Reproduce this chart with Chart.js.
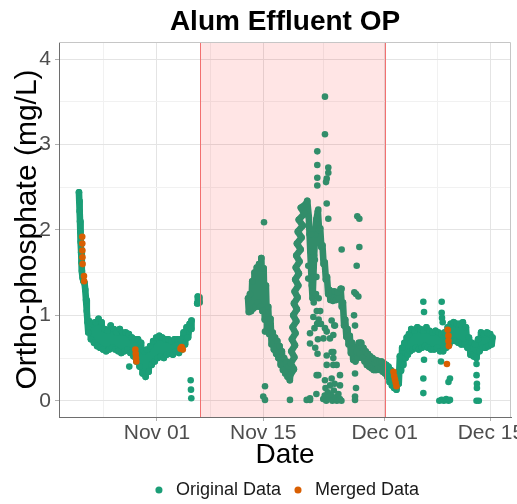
<!DOCTYPE html>
<html><head><meta charset="utf-8">
<script src="https://cdn.jsdelivr.net/npm/chart.js@4.4.1/dist/chart.umd.min.js"></script>
<style>html,body{margin:0;padding:0;background:#fff;}#wrap{width:517px;height:504px;}</style>
</head><body><div id="wrap"><canvas id="c" width="517" height="504"></canvas></div>
<script>
// ---- data (x = days from Nov 01, y = ortho-phosphate mg/L) ----
const seriesNames = ['Original Data', 'Merged Data'];
const majorTickDays = [0, 14, 30, 44];
const tickLabels = ['Nov 01', 'Nov 15', 'Dec 01', 'Dec 15'];
const minorTickDays = [-7, 7, 22, 37];
const yTickValues = [0, 0.5, 1, 1.5, 2, 2.5, 3, 3.5, 4];
const shadeStartDay = 5.67;   // shaded period start (Nov 06 ~16:00)
const shadeEndDay = 30.1;     // shaded period end (Dec 01 ~02:00)

const originalTrace = [
[-10.28,2.44],[-10.24,2.34],[-10.19,2.22],[-10.14,2.10],[-10.09,1.98],[-10.04,1.86],[-9.99,1.74],[-9.94,1.62],[-9.88,1.52],[-9.80,1.44],[-9.70,1.40],[-9.55,1.38],[-9.45,1.30],[-9.35,1.18],[-9.25,1.05],[-9.15,0.92],[-9.05,0.80],
[-8.9,0.93],[-8.7,0.72],[-8.5,0.90],[-8.3,0.68],[-8.1,0.92],[-7.9,0.64],[-7.7,0.96],[-7.5,0.62],[-7.3,0.92],[-7.1,0.60],[-6.9,0.84],[-6.7,0.58],[-6.5,0.82],[-6.3,0.60],[-6.1,0.88],[-5.9,0.62],[-5.7,0.84],[-5.5,0.60],[-5.3,0.80],[-5.1,0.58],[-4.9,0.84],[-4.7,0.56],[-4.5,0.80],[-4.3,0.58],[-4.1,0.80],[-3.9,0.60],[-3.7,0.78],[-3.5,0.56],[-3.3,0.74],[-3.1,0.52],[-2.9,0.72],[-2.7,0.46],[-2.5,0.72],[-2.3,0.40],[-2.1,0.68],[-1.9,0.32],[-1.7,0.58],[-1.5,0.28],[-1.3,0.60],[-1.1,0.34],[-0.9,0.64],[-0.7,0.42],[-0.5,0.70],[-0.3,0.46],[-0.1,0.74],[0.1,0.50],[0.3,0.76],[0.5,0.52],[0.7,0.74],[0.9,0.50],[1.1,0.72],[1.3,0.54],[1.5,0.72],[1.7,0.55],[1.9,0.70],[2.1,0.54],[2.3,0.72],[2.5,0.58],[2.7,0.72],[2.9,0.56],[3.1,0.72],[3.3,0.60],[3.5,0.80],[3.7,0.66],[3.9,0.86],[4.1,0.74],[4.3,0.90],[4.5,0.84],[4.55,0.94],
[4.9,null],
[5.30,1.14],[5.38,1.22],[5.46,1.16],[5.54,1.21],[5.60,1.15],
[8.0,null],
[12.0,1.20],[12.1,1.04],[12.25,1.25],[12.4,1.05],[12.55,1.40],[12.7,1.08],[12.85,1.50],[13.0,1.10],[13.15,1.56],[13.3,1.15],[13.45,1.60],[13.6,1.10],[13.75,1.67],[13.9,1.05],[14.05,1.55],[14.2,0.95],[14.35,1.35],[14.5,0.85],[14.65,1.10],[14.8,0.78],[14.95,0.96],[15.1,0.66],[15.25,0.80],[15.4,0.60],[15.55,0.74],[15.7,0.55],[15.85,0.70],[16.0,0.50],[16.15,0.64],[16.3,0.42],[16.45,0.58],[16.6,0.36],[16.75,0.50],[16.9,0.32],[17.05,0.46],[17.2,0.28],[17.35,0.40],[17.5,0.24],
[17.55,0.30],[18.04,0.37],[17.62,0.44],[18.10,0.51],[17.69,0.58],[18.18,0.65],[17.77,0.72],[18.25,0.79],[17.86,0.86],[18.36,0.93],[17.95,1.00],[18.44,1.07],[18.04,1.14],[18.53,1.21],[18.13,1.28],[18.62,1.35],[18.21,1.42],[18.70,1.49],[18.28,1.56],[18.78,1.63],[18.35,1.70],[18.93,1.77],[18.43,1.84],[19.05,1.91],[18.55,1.98],[19.20,2.05],[18.67,2.12],[19.40,2.19],[18.95,2.26],[19.60,2.30],[19.80,2.34],
[20.0,2.15],[20.1,1.95],[20.2,1.75],[20.3,1.55],[20.4,1.35],[20.5,1.20],[20.6,1.45],[20.7,1.70],[20.85,1.95],[21.0,2.12],[21.2,2.22],
[21.35,2.00],[21.5,2.02],[21.65,1.80],[21.8,1.82],[21.95,1.60],[22.1,1.62],[22.25,1.42],[22.4,1.45],[22.55,1.25],[22.7,1.30],[22.85,1.18],[23.0,1.28],[23.2,1.17],[23.4,1.28],[23.6,1.18],[23.8,1.27],[24.0,1.20],[24.2,1.31],[24.35,1.10],[24.5,1.15],[24.65,0.88],[24.8,0.95],[24.95,0.75],[25.1,0.84],[25.25,0.66],[25.4,0.76],[25.55,0.56],[25.7,0.68],[25.85,0.48],[26.0,0.60],[26.15,0.46],[26.3,0.58],[26.45,0.50],[26.6,0.68],[26.75,0.55],[26.9,0.68],[27.05,0.50],[27.2,0.62],[27.35,0.46],[27.5,0.58],[27.65,0.42],[27.8,0.55],[27.95,0.40],[28.1,0.52],[28.25,0.38],[28.4,0.50],[28.55,0.36],[28.7,0.48],[28.85,0.36],[29.0,0.47],[29.15,0.38],[29.3,0.46],[29.45,0.36],[29.6,0.46],[29.75,0.34],[29.9,0.44],[30.05,0.32],[30.2,0.42],[30.35,0.28],[30.5,0.40],[30.65,0.22],[30.8,0.36],[30.95,0.18],[31.1,0.32],[31.25,0.15],[31.4,0.28],[31.55,0.13],[31.7,0.30],[31.85,0.20],[32.0,0.52],[32.15,0.35],[32.3,0.62],[32.45,0.42],[32.6,0.68],[32.75,0.50],[32.9,0.74],[33.05,0.54],[33.2,0.78],[33.35,0.58],
[33.5,0.84],[33.7,0.60],[33.9,0.82],[34.1,0.62],[34.3,0.86],[34.5,0.60],[34.7,0.84],[34.9,0.62],[35.1,0.82],[35.3,0.64],[35.5,0.86],[35.7,0.62],[35.9,0.82],[36.1,0.60],[36.3,0.80],[36.5,0.60],[36.7,0.82],[36.9,0.62],[37.1,0.80],[37.3,0.58],[37.5,0.78],[37.7,0.58],[37.9,0.80],[38.1,0.62],[38.3,0.86],[38.5,0.66],[38.7,0.90],[38.9,0.70],[39.1,0.92],[39.3,0.70],[39.5,0.90],[39.7,0.68],[39.9,0.90],[40.1,0.66],[40.3,0.92],[40.5,0.66],[40.7,0.86],[40.9,0.62],[41.1,0.74],[41.3,0.54],[41.5,0.68],[41.7,0.52],[41.9,0.66],[42.1,0.50],[42.3,0.72],[42.5,0.58],[42.7,0.80],[42.9,0.62],[43.1,0.78],[43.3,0.62],[43.5,0.80],[43.7,0.64],[43.9,0.78],[44.1,0.66],[44.2,0.74]
];

const originalScatter = [
[-3.65,0.40],[4.44,0.24],[4.48,0.13],[4.52,0.03],
[14.10,2.09],[14.23,0.81],[14.23,0.17],[14.0,0.05],[14.23,0.01],[17.52,0.01],[19.72,0.01],[20.16,0.03],
[19.93,1.58],[19.93,1.43],[20.3,1.95],[20.45,1.75],[20.55,1.55],[20.5,1.35],[20.65,1.15],[20.6,0.98],[20.75,0.85],[20.85,0.62],[21.0,1.45],[20.95,1.25],[21.05,1.05],[21.1,0.90],[21.2,0.72],[21.15,0.55],[20.8,1.65],[21.3,1.20],[21.5,1.05],[21.6,0.90],[21.3,0.95],
[20.16,0.79],[20.16,0.67],[21.04,0.30],[21.0,0.08],[21.25,0.30],
[22.13,3.56],[22.13,3.12],[21.12,2.92],[21.12,2.76],[22.57,2.73],[22.57,2.67],[21.12,2.61],[22.36,2.60],[21.12,2.52],[22.27,2.56],[22.36,2.31],[21.25,2.24],[22.57,2.13],[21.04,2.13],
[26.39,2.16],[26.66,2.13],[24.33,1.77],[26.66,1.80],[26.31,1.58],[24.33,1.31],[26.22,1.25],[26.53,1.22],[26.0,1.27],
[22.13,0.85],[23.01,0.94],[23.23,0.77],[23.45,0.88],[22.36,0.53],[23.01,0.57],[22.36,0.42],[23.23,0.42],[24.11,0.30],[22.13,0.24],[23.01,0.26],[24.11,0.18],[20.16,0.01],
[21.9,0.02],[22.1,0.06],[22.3,0.00],[22.5,0.10],[22.7,0.03],[22.9,0.07],[23.1,0.00],[23.3,0.12],[23.5,0.04],[23.7,0.00],[23.9,0.08],[24.1,0.02],[24.3,0.00],[22.2,0.15],[22.8,0.18],[23.4,0.20],
[26.09,0.32],[26.22,0.15],[26.09,0.01],[26.09,0.88],[25.96,1.00],[26.09,0.05],
[22.36,0.81],[21.93,0.73],[22.79,0.73],[23.36,0.88],[23.23,0.57],[23.23,0.50],[23.67,0.42],
[35.09,1.16],[35.18,1.04],[35.18,0.48],[35.09,0.26],[35.09,0.09],
[37.51,1.16],[37.51,1.03],[37.55,0.97],[37.64,0.92],[37.42,0.46],[38.6,0.26],[38.4,0.22],[37.2,0.00],[37.5,0.01],[37.8,0.00],[38.1,0.02],[38.4,0.00],[38.6,0.01],
[42.1,0.43],[42.1,0.30],[42.15,0.20],[42.15,0.15],[42.1,0.00],[42.4,0.00]
];

const mergedPoints = [
[-9.85,1.92],[-9.84,1.84],[-9.83,1.76],[-9.82,1.68],[-9.80,1.60],[-9.62,1.46],[-9.60,1.40],
[-2.85,0.60],[-2.80,0.55],[-2.76,0.50],[-2.72,0.46],
[3.10,0.61],[3.25,0.63],[3.40,0.60],
[31.15,0.34],[31.25,0.29],[31.35,0.25],[31.45,0.21],[31.55,0.17],
[38.3,0.83],[38.4,0.76],[38.4,0.70],[38.45,0.64],[38.2,0.43]
];

// ---- chart ----
Chart.defaults.font.family = "'Liberation Sans', Arial, Helvetica, sans-serif";
const GREEN = '#1b9e77', ORANGE = '#d95f02';
const GRID_MAJ = '#e4e4e4', GRID_MIN = '#f1f1f1';
const toXY = arr => arr.map(p => ({x: p[0], y: p[1]}));
const xTicksAll = majorTickDays.concat(minorTickDays).sort((a, b) => a - b);
const isMajorX = v => majorTickDays.includes(v);
const isMajorY = v => Number.isInteger(v);

const panelPlugin = {
  id: 'panel',
  afterDatasetsDraw(chart) {
    const {ctx, chartArea: a, scales: {x}} = chart;
    const x0 = x.getPixelForValue(shadeStartDay), x1 = x.getPixelForValue(shadeEndDay);
    ctx.save();
    ctx.beginPath(); ctx.rect(a.left, a.top, a.width, a.height); ctx.clip();
    ctx.fillStyle = 'rgba(255,0,0,0.1)';
    ctx.fillRect(x0, a.top, x1 - x0, a.height);
    ctx.strokeStyle = 'rgb(242,112,112)'; ctx.lineWidth = 1;
    ctx.beginPath();
    ctx.moveTo(Math.round(x0) + 0.5, a.top); ctx.lineTo(Math.round(x0) + 0.5, a.bottom);
    ctx.moveTo(Math.round(x1) + 0.5, a.top); ctx.lineTo(Math.round(x1) + 0.5, a.bottom);
    ctx.stroke();
    ctx.restore();
  },
  afterDraw(chart) {
    const {ctx, chartArea: a} = chart;
    ctx.save(); ctx.strokeStyle = '#c6c6c6'; ctx.lineWidth = 1;
    ctx.beginPath(); ctx.moveTo(a.left, a.top + 0.5); ctx.lineTo(a.right - 0.5, a.top + 0.5); ctx.lineTo(a.right - 0.5, a.bottom); ctx.stroke();
    ctx.restore();
  }
};

new Chart(document.getElementById('c'), {
  type: 'scatter',
  data: {
    datasets: [
      {label: seriesNames[0], data: toXY(originalTrace), showLine: true, spanGaps: false,
       borderColor: GREEN, backgroundColor: GREEN, borderWidth: 6.6, borderJoinStyle: 'round', borderCapStyle: 'round',
       pointRadius: 3.3, pointBorderWidth: 0, pointHoverRadius: 3.3, order: 2},
      {label: seriesNames[0] + ' (isolated)', data: toXY(originalScatter), showLine: false,
       borderColor: GREEN, backgroundColor: GREEN, pointRadius: 3.3, pointBorderWidth: 0, pointHoverRadius: 3.3, order: 1},
      {label: seriesNames[1], data: toXY(mergedPoints), showLine: false,
       borderColor: ORANGE, backgroundColor: ORANGE, pointRadius: 3.3, pointBorderWidth: 0, pointHoverRadius: 3.3, order: 0}
    ]
  },
  options: {
    responsive: false, animation: false, events: [], devicePixelRatio: 1,
    layout: {padding: {left: 0, right: 6, top: 0, bottom: -5}, autoPadding: false},
    plugins: {
      tooltip: {enabled: false},
      title: {display: true, text: 'Alum Effluent OP', color: '#000', fullSize: false,
              font: {size: 28, weight: 'bold'}, padding: {top: 5, bottom: 3.4}},
      legend: {
        position: 'bottom', fullSize: false,
        labels: {
          usePointStyle: true, pointStyle: 'circle', boxWidth: 16, boxHeight: 5, padding: 9,
          color: '#1a1a1a', font: {size: 18},
          filter: item => item.datasetIndex !== 1,
          sort: (a, b) => a.datasetIndex - b.datasetIndex,
          generateLabels(chart) {
            const items = Chart.defaults.plugins.legend.labels.generateLabels(chart);
            items.forEach(it => { it.lineWidth = 0; it.strokeStyle = 'rgba(0,0,0,0)'; });
            return items;
          }
        }
      }
    },
    scales: {
      x: {
        type: 'linear', position: 'bottom', min: -12.91, max: 46.64,
        afterBuildTicks(s) { s.ticks = xTicksAll.map(v => ({value: v})); },
        afterFit(s) { s.height = 55; s.paddingLeft = 0; s.paddingRight = 0; },
        ticks: {autoSkip: false, maxRotation: 0, minRotation: 0, padding: 0, color: '#4d4d4d', font: {size: 21},
                callback(v) { const i = majorTickDays.indexOf(v); return i >= 0 ? tickLabels[i] : ''; }},
        grid: {lineWidth: 1, tickLength: 4, drawTicks: true,
               color: c => (c.tick && isMajorX(c.tick.value)) ? GRID_MAJ : GRID_MIN,
               tickColor: c => (c.tick && isMajorX(c.tick.value)) ? '#b0b0b0' : 'rgba(0,0,0,0)'},
        border: {display: true, color: '#6e6e6e', width: 1},
        title: {display: true, text: 'Date', color: '#000', font: {size: 28}, padding: {top: 0, bottom: 0}}
      },
      y: {
        type: 'linear', position: 'left', min: -0.19, max: 4.2,
        afterBuildTicks(s) { s.ticks = yTickValues.map(v => ({value: v})); },
        afterFit(s) { s.width = 59; s.paddingTop = 0; s.paddingBottom = 0; },
        ticks: {padding: 4, color: '#4d4d4d', font: {size: 21},
                callback(v) { return isMajorY(v) ? String(v) : ''; }},
        grid: {lineWidth: 1, tickLength: 4, drawTicks: true,
               color: c => (c.tick && isMajorY(c.tick.value)) ? GRID_MAJ : GRID_MIN,
               tickColor: c => (c.tick && isMajorY(c.tick.value)) ? '#b0b0b0' : 'rgba(0,0,0,0)'},
        border: {display: true, color: '#6e6e6e', width: 1},
        title: {display: true, text: 'Ortho-phosphate (mg/L)', color: '#000', font: {size: 30}, padding: {top: 10, bottom: 0}}
      }
    }
  },
  plugins: [panelPlugin]
});
</script></body></html>
